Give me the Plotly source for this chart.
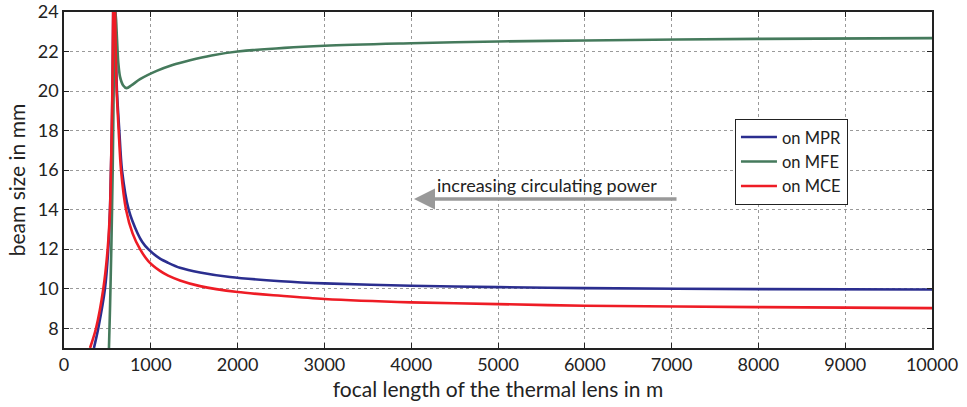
import plotly.graph_objects as go

# focal length (m) and beam size (mm); None separates the two branches around the resonance
mpr_x = [345, 395, 472, 510, 530, 541, 551, 558, 563, 567, None,
         590, 598, 610, 637, 668, 745, 850, 900, 971, 1106, 1200, 1336, 1567, 1912, 2500, 3000, 4000, 5000, 6000, 8000, 10000]
mpr_y = [7, 8, 10, 12, 14, 16, 18, 20, 22, 24, None,
         24, 22, 20, 18, 16, 14, 12.78, 12.38, 12, 11.52, 11.31, 11.06, 10.82, 10.59, 10.38, 10.27, 10.15, 10.08, 10.03, 9.98, 9.96]

mfe_x = [518, 530, 545, 561, 572, 582, None,
         592, 600, 607, 626, 645, 680, 722, 780, 876, 1068, 1250, 1452, 1700, 2000, 3000, 4000, 5000, 6000, 8000, 10000]
mfe_y = [7, 9, 12, 16, 20, 24, None,
         24, 23.6, 22.95, 21.41, 20.73, 20.3, 20.15, 20.3, 20.6, 21.02, 21.32, 21.56, 21.8, 22.0, 22.29, 22.42, 22.51, 22.56, 22.64, 22.68]

mce_x = [300, 369, 453, 503, 530, 541, 550, 557, 562, 566, None,
         588, 596, 607, 630, 657, 715, 790, 876, 971, 1106, 1200, 1336, 1567, 2000, 2500, 3000, 4000, 5000, 6000, 8000, 10000]
mce_y = [7, 8, 10, 12, 14, 16, 18, 20, 22, 24, None,
         24, 22, 20, 18, 16, 14, 12.8, 12, 11.4, 10.9, 10.66, 10.42, 10.13, 9.83, 9.64, 9.48, 9.31, 9.22, 9.14, 9.07, 9.02]

x_ticks = [0, 1000, 2000, 3000, 4000, 5000, 6000, 7000, 8000, 9000, 10000]
y_ticks = [8, 10, 12, 14, 16, 18, 20, 22, 24]

FONT = "Lato"

fig = go.Figure()
line_kw = dict(shape="spline", smoothing=0.8, width=2.6)
fig.add_trace(go.Scatter(x=mpr_x, y=mpr_y, mode="lines", name="on MPR",
                         line=dict(color="#2B2E8F", **line_kw), connectgaps=False))
fig.add_trace(go.Scatter(x=mfe_x, y=mfe_y, mode="lines", name="on MFE",
                         line=dict(color="#457A5C", **line_kw), connectgaps=False))
fig.add_trace(go.Scatter(x=mce_x, y=mce_y, mode="lines", name="on MCE",
                         line=dict(color="#EE1C25", **line_kw), connectgaps=False))

axis_common = dict(
    showline=True, linecolor="#222", linewidth=1.5, mirror="ticks",
    ticks="inside", ticklen=5, tickcolor="#222", tickwidth=1,
    showgrid=True, gridcolor="#9a9a9a", griddash="dot", gridwidth=1,
    zeroline=False, automargin=False, tickfont=dict(family=FONT, size=18, color="#222"),
)

fig.update_layout(
    width=967, height=407,
    margin=dict(l=64, r=35, t=12, b=59),
    paper_bgcolor="white", plot_bgcolor="white",
    font=dict(family=FONT, color="#222"),
    xaxis=dict(range=[0, 10000], tickvals=x_ticks, ticktext=[str(v) for v in x_ticks],
               title=dict(text="focal length of the thermal lens in m", font=dict(family=FONT, size=21), standoff=8),
               **axis_common),
    yaxis=dict(range=[7, 24], tickvals=y_ticks, ticktext=[str(v) for v in y_ticks],
               title=dict(text="beam size in mm", font=dict(family=FONT, size=21), standoff=6),
               **axis_common),
    legend=dict(x=0.773, y=0.682, xanchor="left", yanchor="top",
                bgcolor="white", bordercolor="#222", borderwidth=1, itemwidth=36,
                font=dict(family=FONT, size=16.5, color="#222")),
    showlegend=True,
)

fig.add_annotation(x=4032, y=14.54, ax=7074, ay=14.54, xref="x", yref="y", axref="x", ayref="y",
                   showarrow=True, arrowhead=2, arrowsize=1.2, arrowwidth=3.5, arrowcolor="#999999", text="")
fig.add_annotation(x=5559, y=15.25, xref="x", yref="y", text="increasing circulating power",
                   showarrow=False, font=dict(family=FONT, size=18, color="#222"))

fig.write_html("out.html", config={"displayModeBar": False},
               post_script="document.body.style.margin='0';")
